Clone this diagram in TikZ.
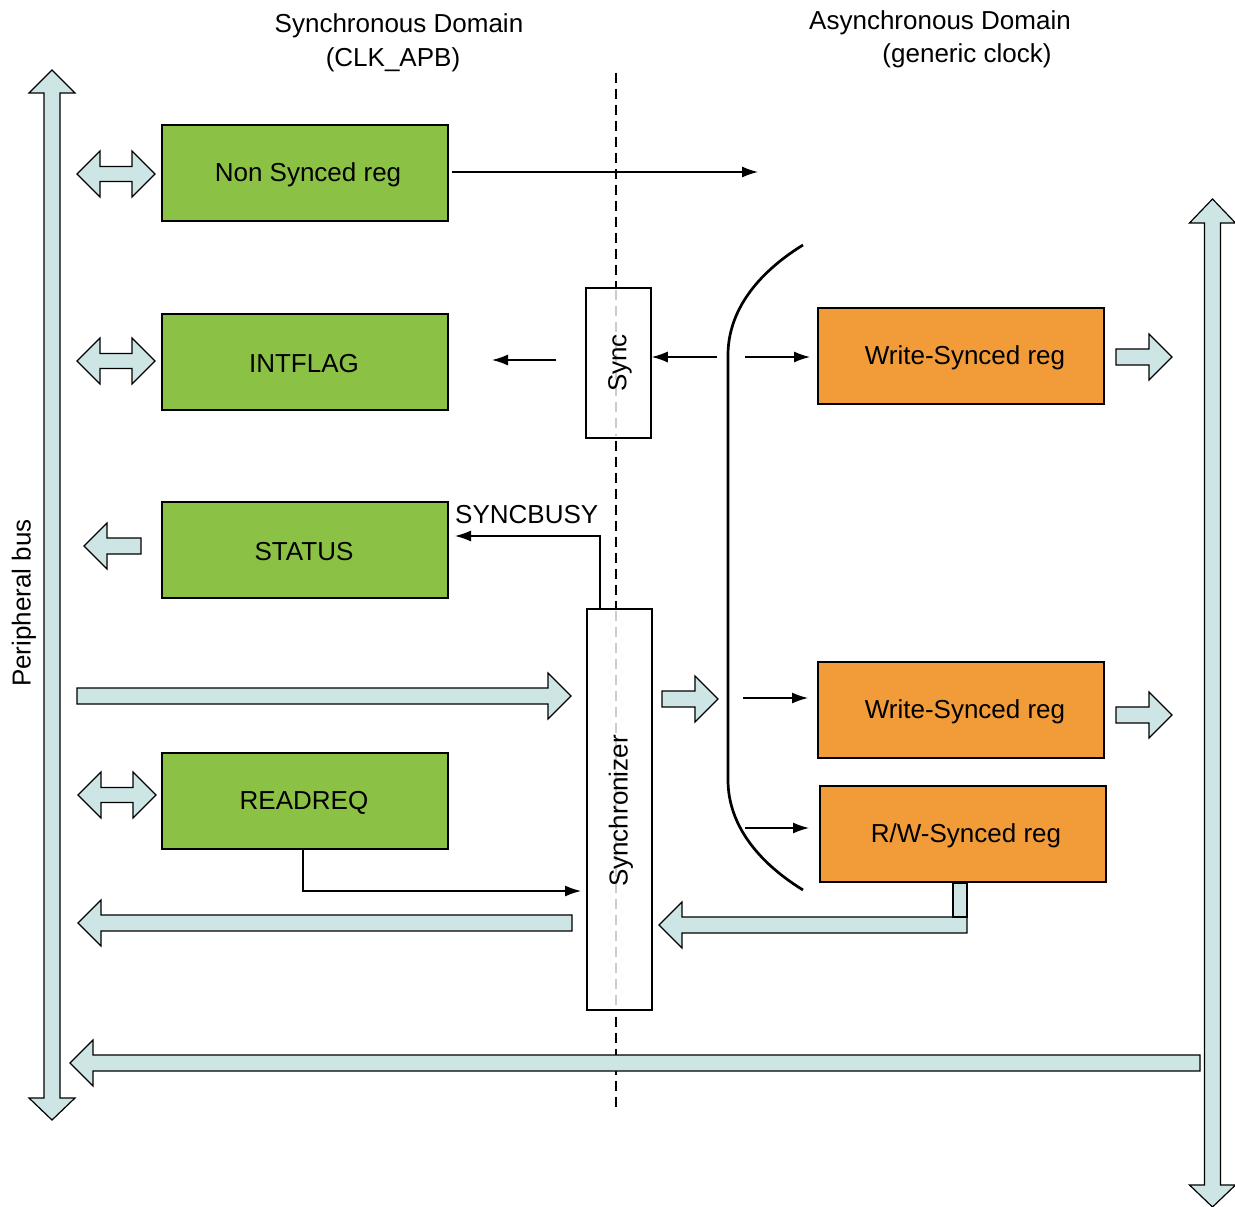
\documentclass[tikz,border=0pt]{standalone}
\usepackage{fontspec}
\setmainfont{Liberation Sans}
\usetikzlibrary{arrows.meta}
\definecolor{grn}{RGB}{139,193,69}
\definecolor{org}{RGB}{241,156,56}
\definecolor{fatfill}{RGB}{205,229,229}
\definecolor{lgray}{RGB}{205,205,205}
\newcommand\fatright[3]{\draw[fat] (#1,#3-8) -- (#2-23,#3-8) -- (#2-23,#3-23) -- (#2,#3) -- (#2-23,#3+23) -- (#2-23,#3+8) -- (#1,#3+8) -- cycle;}
\newcommand\fatleft[3]{\draw[fat] (#2,#3-8) -- (#1+23,#3-8) -- (#1+23,#3-23) -- (#1,#3) -- (#1+23,#3+23) -- (#1+23,#3+8) -- (#2,#3+8) -- cycle;}
\newcommand\fatdbl[3]{\draw[fat] (#1,#3) -- (#1+23,#3-23) -- (#1+23,#3-7.5) -- (#2-23,#3-7.5) -- (#2-23,#3-23) -- (#2,#3) -- (#2-23,#3+23) -- (#2-23,#3+7.5) -- (#1+23,#3+7.5) -- (#1+23,#3+23) -- cycle;}
\newcommand\fatvdbl[5]{\draw[fat] (#1,#2) -- (#1+23,#2+#4) -- (#1+8,#2+#4) -- (#1+8,#3-#5) -- (#1+23,#3-#5) -- (#1,#3) -- (#1-23,#3-#5) -- (#1-8,#3-#5) -- (#1-8,#2+#4) -- (#1-23,#2+#4) -- cycle;}
\begin{document}
\begin{tikzpicture}[x=1pt,y=-1pt,
  font=\fontsize{26}{31}\selectfont,
  fat/.style={draw=black,fill=fatfill,line width=1.2pt,line join=miter},
  gbox/.style={draw=black,fill=grn,line width=1.2pt,minimum width=286pt,minimum height=96pt,inner sep=0pt},
  obox/.style={draw=black,fill=org,line width=1.2pt,minimum width=286pt,minimum height=96pt,inner sep=0pt},
  wbox/.style={draw=black,fill=white,line width=1.5pt,inner sep=0pt},
  tarrow/.style={line width=1.3pt,-{Latex[length=16pt,width=11pt]}},
  plain/.style={inner sep=0pt},
  btext/.style={inner sep=0pt,yshift=-2pt}]
\useasboundingbox (0,0) rectangle (1235,1207);

% titles
\node[plain] (t1) at (399,26) {Synchronous Domain};
\node[plain] (t2) at (393,60) {(CLK\_APB)};
\node[plain] (t3) at (940,23) {Asynchronous Domain};
\node[plain] (t4) at (967,56) {(generic clock)};
\node[plain,rotate=90] (pb) at (24,603) {Peripheral bus};

% buses
\fatvdbl{52}{70}{1120}{23}{22}
\fatvdbl{1212.5}{199}{1207}{24}{22}

% domain border
\draw[line width=2.8pt,dash pattern=on 10pt off 6pt] (616,73) -- (616,1112);

% green registers
\node[gbox] (nsr) at (305,173) {};
\node[gbox] (intf) at (305,362) {};
\node[gbox] (stat) at (305,550) {};
\node[gbox] (rr) at (305,801) {};
\node[btext] (nsrt) at (308,173) {Non Synced reg};
\node[btext] (intft) at (304,362) {INTFLAG};
\node[btext] (statt) at (304,550) {STATUS};
\node[btext] (rrt) at (304,801) {READREQ};

% orange registers
\node[obox] (ws1) at (961,356) {};
\node[obox] (ws2) at (961,710) {};
\node[obox] (rws) at (963,834) {};
\node[btext] (ws1t) at (965,356) {Write-Synced reg};
\node[btext] (ws2t) at (965,710) {Write-Synced reg};
\node[btext] (rwst) at (966,834) {R/W-Synced reg};

% sync boxes
\node[wbox,minimum width=65pt,minimum height=150pt] (sync) at (618.5,363) {};
\node[wbox,minimum width=65pt,minimum height=401pt] (synchro) at (619.5,809.5) {};
\draw[lgray,line width=2pt,dash pattern=on 10pt off 6pt] (616,290) -- (616,436);
\draw[lgray,line width=2pt,dash pattern=on 10pt off 6pt] (616,611) -- (616,1008);
\node[plain,rotate=90] (synct) at (620,363) {Sync};
\node[plain,rotate=90] (synchrot) at (621,811) {Synchronizer};

% bracket
\draw[line width=2.7pt] (803,245) .. controls (756,274) and (728,312) .. (728,355) -- (728,780) .. controls (728,823) and (756,861) .. (803,890);

% small bus arrows
\fatdbl{77}{155}{174}
\fatdbl{77}{155}{361}
\fatdbl{78}{156}{795}
\fatleft{84}{141}{546}
\fatright{77}{571}{696}
\fatleft{78}{572}{923}
\fatright{662}{718}{699}
\fatright{1116}{1172}{357}
\fatright{1116}{1172}{715}
\fatleft{70}{1200}{1063}
\fatleft{659}{967}{925}
\draw[fat] (953,883) rectangle (967,917);

% thin connectors
\coordinate (nsA) at (452,172);
\coordinate (nsB) at (758,172);
\draw[tarrow] (nsA) -- (nsB);
\coordinate (ifA) at (556,360);
\coordinate (ifB) at (492,360);
\draw[tarrow] (ifA) -- (ifB);
\coordinate (sA) at (717,357);
\draw[tarrow] (sA) -- (sA -| sync.east);
\coordinate (sB) at (745,357);
\coordinate (sBe) at (810,357);
\draw[tarrow] (sB) -- (sBe);
\coordinate (sbA) at (600,609);
\coordinate (sbB) at (455,536);
\draw[tarrow] (sbA) |- (sbB);
\node[plain,anchor=south west] (sbt) at (455,524) {SYNCBUSY};
\coordinate (rrA) at (303,849);
\coordinate (rrB) at (581,891);
\draw[tarrow] (rrA) |- (rrB);
\coordinate (w2A) at (743,698);
\coordinate (w2B) at (808,698);
\draw[tarrow] (w2A) -- (w2B);
\coordinate (w3A) at (745,828);
\coordinate (w3B) at (809,828);
\draw[tarrow] (w3A) -- (w3B);
\end{tikzpicture}
\end{document}
